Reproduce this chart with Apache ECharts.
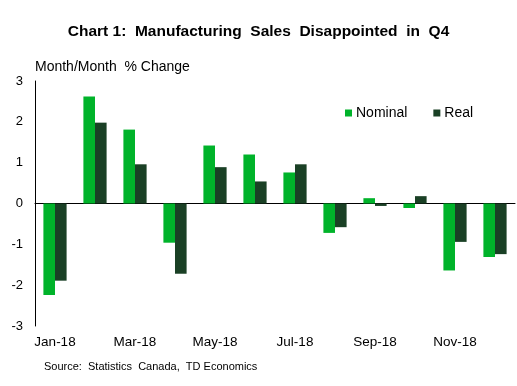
<!DOCTYPE html>
<html><head><meta charset="utf-8">
<script src="https://cdn.jsdelivr.net/npm/echarts@6/dist/echarts.min.js"></script>
<style>html,body{margin:0;padding:0;background:#fff}#c{width:517px;height:386px}</style>
</head><body><div id="c"></div>
<script>
const categories = ['Jan-18','Feb-18','Mar-18','Apr-18','May-18','Jun-18','Jul-18','Aug-18','Sep-18','Oct-18','Nov-18','Dec-18'];
const nominal = [-2.24, 2.62, 1.81, -0.96, 1.42, 1.20, 0.76, -0.72, 0.13, -0.11, -1.64, -1.31];
const real    = [-1.89, 1.98, 0.96, -1.72, 0.89, 0.54, 0.96, -0.58, -0.06, 0.18, -0.94, -1.24];
const yTicks = [-3, -2, -1, 0, 1, 2, 3];

const chart = echarts.init(document.getElementById('c'), null, {renderer: 'canvas'});
const font = 'Arial, "Liberation Sans", sans-serif';
chart.setOption({
  animation: false,
  backgroundColor: '#fff',
  title: {
    text: 'Chart 1:  Manufacturing  Sales  Disappointed  in  Q4',
    left: 'center', top: 19,
    textStyle: {fontFamily: font, fontSize: 15.5, fontWeight: 'bold', color: '#000'}
  },
  graphic: [
    {type: 'text', left: 35, top: 60, style: {text: 'Month/Month  % Change', font: '14px ' + font, fill: '#000'}},
    {type: 'text', left: 44, top: 361, style: {text: 'Source:  Statistics  Canada,  TD Economics', font: '11px ' + font, fill: '#000'}}
  ],
  legend: {
    data: ['Nominal', 'Real'],
    left: 340, top: 101,
    itemWidth: 7, itemHeight: 7, itemGap: 26,
    icon: 'rect',
    textStyle: {fontFamily: font, fontSize: 14, color: '#000', padding: [0,0,0,-1]}
  },
  grid: {left: 35, right: 2, top: 81, bottom: 60},
  xAxis: [{
    type: 'category', data: categories,
    axisLine: {show: false, onZero: false},
    axisTick: {show: false},
    axisLabel: {interval: 1, fontFamily: font, fontSize: 13.5, color: '#000', margin: 9}
  }, {
    type: 'category', data: categories, position: 'bottom',
    axisLine: {show: true, onZero: true, lineStyle: {color: '#000', width: 1}},
    axisTick: {show: false}, axisLabel: {show: false}
  }],
  yAxis: {
    type: 'value', min: -3, max: 3, interval: 1,
    axisLine: {show: true, lineStyle: {color: '#000', width: 1}},
    axisTick: {show: false},
    splitLine: {show: false},
    axisLabel: {fontFamily: font, fontSize: 13, color: '#000', margin: 12,
      formatter: v => yTicks.includes(v) ? String(v) : ''}
  },
  series: [
    {name: 'Nominal', type: 'bar', data: nominal, itemStyle: {color: '#00B32A'}, barGap: '0%', barCategoryGap: '42%'},
    {name: 'Real', type: 'bar', data: real, itemStyle: {color: '#1A4025'}, barGap: '0%', barCategoryGap: '42%'}
  ]
});
</script></body></html>
